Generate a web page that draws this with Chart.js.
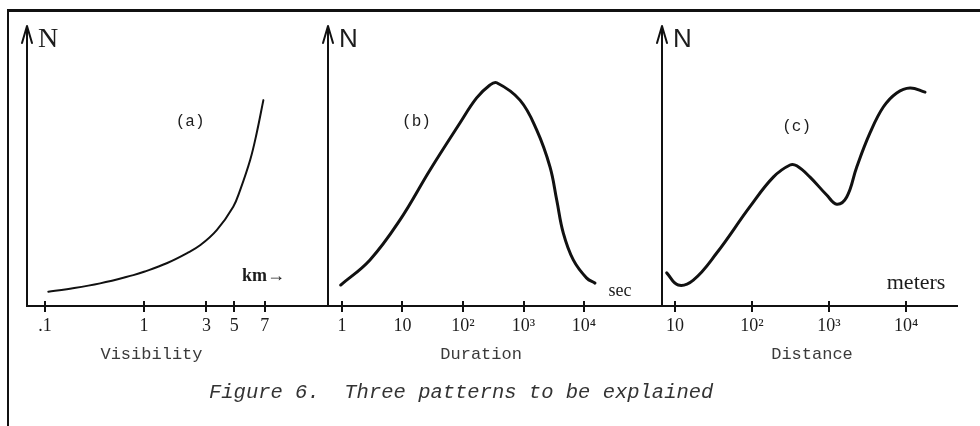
<!DOCTYPE html>
<html>
<head>
<meta charset="utf-8">
<script src="https://cdn.jsdelivr.net/npm/chart.js@4/dist/chart.umd.min.js"></script>
<style>
  html, body { margin: 0; padding: 0; background: #fff; }
  #fig { position: relative; width: 980px; height: 426px; overflow: hidden; background: #fff; }
  .frameTop { position: absolute; left: 7px; top: 9px; width: 973px; height: 3px; background: #111; }
  .frameLeft { position: absolute; left: 7px; top: 9px; width: 2px; height: 417px; background: #111; }
  canvas { position: absolute; top: 0; }
  #cap { position: absolute; left: 209px; top: 383px; font: italic 20.5px 'Liberation Mono', 'DejaVu Sans Mono', monospace;
         line-height: 20px; white-space: pre; color: #333; }
</style>
</head>
<body>
<div id="fig">
  <div class="frameTop"></div>
  <div class="frameLeft"></div>
  <canvas id="ca" width="330" height="426" style="left:0px"></canvas>
  <canvas id="cb" width="345" height="426" style="left:320px"></canvas>
  <canvas id="cc" width="325" height="426" style="left:655px"></canvas>
  <div id="cap">Figure 6.  Three patterns to be explained</div>
</div>
<script>
// ---------- Panel (a): Visibility (hand-drawn, non-uniform km axis) ----------
const visTickLabels = ['.1', '1', '3', '5', '7'];
const visTickKm     = [0.1, 1, 3, 5, 7];
const visTickPos    = [0, 1, 1.63, 1.91, 2.22];   // calibration of the hand-drawn axis
const visKm = [0.108, 0.166, 0.36, 0.78, 1, 1.49, 2.12, 2.70, 3.63, 4.92, 5.34, 5.96, 6.40, 6.89];
const visN  = [5.2, 6.1, 8.2, 11.2, 12.4, 15.5, 19.1, 22.1, 27.5, 36.0, 42.0, 52.9, 62.6, 74.6];

// ---------- Panel (b): Duration (seconds, log) ----------
const durTickVals   = [1, 10, 100, 1000, 10000];
const durTickLabels = ['1', '10', '10²', '10³', '10⁴'];
const durSec = [0.95, 2.9, 9.1, 28.5, 89, 168, 279, 361, 875, 1650, 2740, 3540, 4550, 6650, 11090, 15200];
const durN   = [7.6, 16.7, 31.2, 49.3, 66.3, 75.4, 80.1, 80.9, 74.6, 63.8, 50.4, 38.4, 26.4, 16.7, 10.1, 8.3];

// ---------- Panel (c): Distance (meters, log) ----------
const distTickVals   = [10, 100, 1000, 10000];
const distTickLabels = ['10', '10²', '10³', '10⁴'];
const distM = [7.8, 11.0, 17.3, 34.8, 94, 189, 312, 381, 567, 933, 1259, 1698, 2291, 3405, 5070, 7570, 11270, 17660];
const distN = [12.0, 7.6, 9.4, 19.2, 36.0, 46.7, 51.1, 50.8, 46.7, 40.2, 36.9, 39.5, 50.4, 62.7, 72.1, 77.2, 79.0, 77.5];

// map km to the hand-drawn axis position (log interpolation between calibrated ticks)
function kmToPos(km) {
  const L = Math.log10(km);
  for (let i = 0; i < visTickKm.length - 1; i++) {
    const l0 = Math.log10(visTickKm[i]), l1 = Math.log10(visTickKm[i + 1]);
    if (L <= l1 || i === visTickKm.length - 2) {
      const f = (L - l0) / (l1 - l0);
      return visTickPos[i] + f * (visTickPos[i + 1] - visTickPos[i]);
    }
  }
}

const INK = '#111';
const TEXT = '#1c1c1c';

const decor = {
  id: 'decor',
  afterDatasetsDraw(chart, args, opts) {
    const { ctx, chartArea: a, scales: { x, y } } = chart;
    ctx.save();
    ctx.strokeStyle = INK; ctx.lineWidth = 2; ctx.lineCap = 'round'; ctx.lineJoin = 'round';
    // arrow head on the N axis
    ctx.beginPath();
    ctx.moveTo(a.left - 5, a.top + 16);
    ctx.lineTo(a.left, a.top - 1);
    ctx.lineTo(a.left + 5, a.top + 16);
    ctx.stroke();
    // tick marks crossing the axis (upper half)
    ctx.lineCap = 'butt';
    x.ticks.forEach(t => {
      const px = Math.round(x.getPixelForValue(t.value));
      ctx.beginPath(); ctx.moveTo(px, a.bottom - 5); ctx.lineTo(px, a.bottom); ctx.stroke();
    });
    // N label
    ctx.fillStyle = TEXT;
    ctx.font = opts.nFont;
    ctx.textAlign = 'left'; ctx.textBaseline = 'middle';
    ctx.fillText('N', a.left + 11, a.top + 13);
    // notes in data space
    opts.notes.forEach(n => {
      ctx.font = n.font; ctx.fillStyle = n.color || TEXT;
      ctx.textAlign = 'center'; ctx.textBaseline = 'middle';
      ctx.fillText(n.text, x.getPixelForValue(n.x), y.getPixelForValue(n.y));
    });
    // axis title below the tick labels
    ctx.font = "17px 'Liberation Mono', 'DejaVu Sans Mono', monospace";
    ctx.fillStyle = '#3a3a3a';
    ctx.textAlign = 'center'; ctx.textBaseline = 'middle';
    ctx.fillText(opts.title.text, x.getPixelForValue(opts.title.x), a.bottom + 48);
    ctx.restore();
  }
};

function makeChart(id, cfg) {
  return new Chart(document.getElementById(id), {
    type: 'line',
    data: {
      datasets: [{
        data: cfg.points,
        borderColor: INK,
        borderWidth: cfg.lineWidth,
        pointRadius: 0,
        fill: false,
        tension: 0.4,
        borderCapStyle: 'round',
        borderJoinStyle: 'round'
      }]
    },
    options: {
      responsive: false,
      animation: false,
      devicePixelRatio: 1,
      layout: { padding: { left: cfg.padLeft, right: cfg.padRight, top: 27, bottom: 60 } },
      plugins: { legend: { display: false }, tooltip: { enabled: false }, decor: cfg.decor },
      scales: {
        x: {
          type: cfg.xType,
          min: cfg.xMin, max: cfg.xMax,
          position: 'bottom',
          afterFit: s => { s.height = 60; },
          afterBuildTicks: s => { s.ticks = cfg.tickVals.map(v => ({ value: v })); },
          ticks: {
            autoSkip: false, maxRotation: 0, minRotation: 0, padding: 3,
            color: TEXT,
            font: { family: "'Liberation Serif', 'DejaVu Serif', serif", size: 18 },
            callback: (v, i) => cfg.tickLabels[i]
          },
          grid: { display: true, drawOnChartArea: false, drawTicks: true, tickLength: 6, color: INK, lineWidth: 2 },
          border: { display: true, color: INK, width: 2 },
          title: { display: false }
        },
        y: {
          min: 0, max: 101.1,
          afterFit: s => { s.width = 0; },
          ticks: { display: false },
          grid: { display: true, drawOnChartArea: false, drawTicks: false },
          border: { display: true, color: INK, width: 2 }
        }
      }
    },
    plugins: [decor]
  });
}

const serifNote = "18px 'Liberation Serif', 'DejaVu Serif', serif";
const monoNote = "16px 'Liberation Mono', 'DejaVu Sans Mono', monospace";

makeChart('ca', {
  points: visKm.map((k, i) => ({ x: kmToPos(k), y: visN[i] })),
  xType: 'linear', xMin: -0.182, xMax: 2.858,
  tickVals: visTickKm.map(kmToPos), tickLabels: visTickLabels,
  padLeft: 27, padRight: 2, lineWidth: 2,
  decor: {
    nFont: "28px 'Liberation Serif', 'DejaVu Serif', serif",
    notes: [
      { text: '(a)', x: kmToPos(2.25), y: 66.7, font: monoNote },
      { text: 'km→', x: kmToPos(6.9), y: 10.9, font: "bold 18px 'Liberation Serif', serif" }
    ],
    title: { text: 'Visibility', x: kmToPos(1.14) }
  }
});

makeChart('cb', {
  points: durSec.map((s, i) => ({ x: s, y: durN[i] })),
  xType: 'logarithmic', xMin: 0.587, xMax: 194600,
  tickVals: durTickVals, tickLabels: durTickLabels,
  padLeft: 8, padRight: 3, lineWidth: 3,
  decor: {
    nFont: "26px 'Liberation Sans', 'DejaVu Sans', sans-serif",
    notes: [
      { text: '(b)', x: 17, y: 66.7, font: monoNote },
      { text: 'sec', x: 39400, y: 5.4, font: serifNote }
    ],
    title: { text: 'Duration', x: 199 }
  }
});

makeChart('cc', {
  points: distM.map((m, i) => ({ x: m, y: distN[i] })),
  xType: 'logarithmic', xMin: 6.78, xMax: 45900,
  tickVals: distTickVals, tickLabels: distTickLabels,
  padLeft: 7, padRight: 23, lineWidth: 3,
  decor: {
    nFont: "26px 'Liberation Sans', 'DejaVu Sans', sans-serif",
    notes: [
      { text: '(c)', x: 380, y: 64.9, font: monoNote },
      { text: 'meters', x: 13500, y: 8.3, font: "22px 'Liberation Serif', serif" }
    ],
    title: { text: 'Distance', x: 601 }
  }
});
</script>
</body>
</html>
